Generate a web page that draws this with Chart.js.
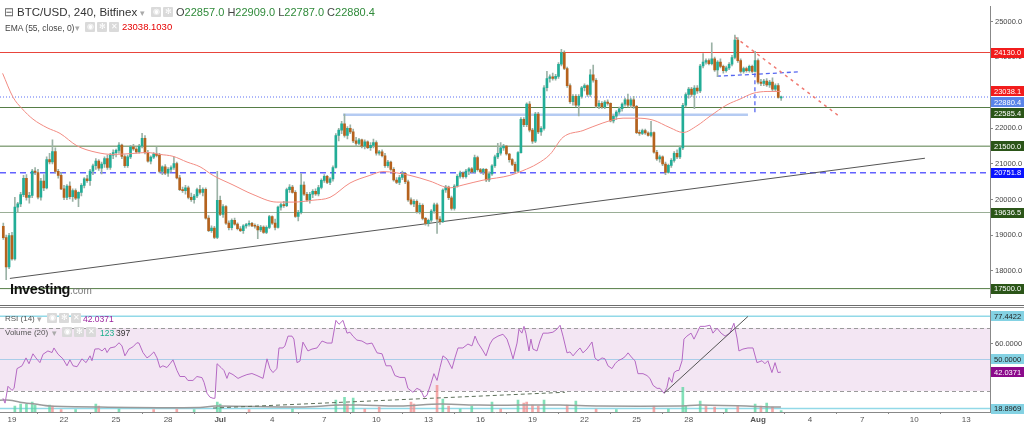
<!DOCTYPE html>
<html>
<head>
<meta charset="utf-8">
<script src="https://cdn.jsdelivr.net/npm/chart.js"></script>
<style>
 html,body{margin:0;padding:0;background:#fff;}
 #wrap{position:relative;width:1024px;height:425px;overflow:hidden;font-family:"Liberation Sans",Arial,sans-serif;background:#fff;}
 canvas{position:absolute;left:0;}
 .t{position:absolute;white-space:nowrap;line-height:12px;color:#333;}
 .ic{position:absolute;width:10px;height:10px;background:#dadada;color:#fff;font-size:8px;line-height:10px;text-align:center;border-radius:1px;}
 .g{color:#2f8a3a;}
</style>
</head>
<body>
<div id="wrap">
 <canvas id="price" width="1024" height="304" style="top:0;width:1024px;height:304px"></canvas>
 <canvas id="osc" width="1024" height="121" style="top:304px;width:1024px;height:121px"></canvas>

 <div class="t" style="left:4px;top:6px;font-size:11.5px;color:#666">⊟</div>
 <div class="t" style="left:17px;top:6px;font-size:11.5px;">BTC/USD, 240, Bitfinex</div>
 <div class="t" style="left:140px;top:7px;font-size:9px;color:#aaa">▾</div>
 <div class="ic" style="left:151px;top:7px">◉</div>
 <div class="ic" style="left:163px;top:7px">✻</div>
 <div class="t" style="left:176px;top:6px;font-size:11px;color:#444">O<span class="g">22857.0</span> H<span class="g">22909.0</span> L<span class="g">22787.0</span> C<span class="g">22880.4</span></div>

 <div class="t" style="left:5px;top:22px;font-size:8.5px;color:#444">EMA (55, close, 0)</div>
 <div class="t" style="left:75px;top:22px;font-size:9px;color:#aaa">▾</div>
 <div class="ic" style="left:85px;top:22px">◉</div>
 <div class="ic" style="left:97px;top:22px">✻</div>
 <div class="ic" style="left:109px;top:22px">✕</div>
 <div class="t" style="left:122px;top:21px;font-size:9.5px;color:#e60000">23038.1030</div>

 <div class="t" style="left:5px;top:313px;font-size:8px;color:#555">RSI (14)</div>
 <div class="t" style="left:37px;top:313px;font-size:9px;color:#aaa">▾</div>
 <div class="ic" style="left:47px;top:313px">◉</div>
 <div class="ic" style="left:59px;top:313px">✻</div>
 <div class="ic" style="left:71px;top:313px">✕</div>
 <div class="t" style="left:83px;top:313px;font-size:8.5px;color:#9b229e">42.0371</div>

 <div class="t" style="left:5px;top:327px;font-size:8px;color:#555">Volume (20)</div>
 <div class="t" style="left:52px;top:327px;font-size:9px;color:#aaa">▾</div>
 <div class="ic" style="left:62px;top:327px">◉</div>
 <div class="ic" style="left:74px;top:327px">✻</div>
 <div class="ic" style="left:86px;top:327px">✕</div>
 <div class="t" style="left:100px;top:327px;font-size:8.5px;color:#1aae8a">123</div>
 <div class="t" style="left:116px;top:327px;font-size:8.5px;color:#333">397</div>

 <div class="t" style="left:10px;top:283px;font-size:14.5px;font-weight:bold;color:#111;letter-spacing:-0.4px">Investing<span style="font-size:10px;font-weight:normal;color:#777;letter-spacing:0">.com</span></div>
</div>

<script>
// ---------------- DATA ----------------
const tickDays   = [0,3,6,9,12,15,18,21,24,27,30,33,36,39,43,46,49,52,55];
const tickLabels = ['19','22','25','28','Jul','4','7','10','13','16','19','22','25','28','Aug','4','7','10','13'];
const boldTicks  = ['Jul','Aug'];
const priceTickValues = [18000,19000,20000,21000,22000,23000,24000,25000];
const rsiTickValues = [60];

// 4h candles, first bar opens 18 Jun 12:00 (day -0.5, day 0 = 19 Jun)
const firstBarDay = -0.5;
const barsPerDay = 6;
const ohlc = [
[19250,19340,18880,18930],[18930,19000,17750,18110],[18110,19050,18060,18990],[18990,19080,18300,18330],[18330,20060,18300,19790],
[19790,19920,19650,19880],[19880,20200,19800,20140],[20140,20680,20080,20600],[20600,20700,19980,20060],[20060,20200,19900,20120],
[20120,20850,20050,20800],[20800,20900,20700,20760],[20760,20850,20020,20070],[20070,20600,19980,20520],[20520,20700,20250,20330],
[20330,21200,20300,21120],[21120,21300,21000,21060],[21060,21680,21000,21350],[21350,21450,20750,20790],[20790,20850,20600,20680],
[20680,20760,20280,20300],[20300,20400,20000,20060],[20060,20420,20000,20380],[20380,20500,20020,20080],[20080,20300,19950,20250],
[20250,20300,20000,20040],[20040,20220,19800,20200],[20200,20450,20100,20400],[20400,20620,20330,20580],[20580,20680,20480,20530],
[20530,20850,20400,20800],[20800,21000,20700,20950],[20950,21150,20850,21080],[21080,21120,20820,20880],[20880,21050,20720,21000],
[21000,21200,20900,21150],[21150,21250,20850,20900],[20900,21300,20850,21250],[21250,21400,21150,21320],[21320,21420,21200,21380],
[21380,21600,21300,21530],[21530,21560,21150,21210],[21210,21260,20900,20950],[20950,21250,20900,21200],[21200,21520,21150,21480],
[21480,21550,21380,21420],[21420,21460,21300,21340],[21340,21550,21300,21500],[21500,21860,21450,21720],[21720,21800,21280,21320],
[21320,21380,21050,21080],[21080,21230,21000,21190],[21190,21320,21150,21280],[21280,21480,21200,21240],[21240,21300,20750,20790],
[20790,20950,20700,20920],[20920,20980,20700,20740],[20740,20900,20650,20850],[20850,20950,20780,20900],[20900,21200,20850,21010],
[21010,21050,20580,20610],[20610,20680,20250,20280],[20280,20350,20200,20250],[20250,20400,20150,20330],[20330,20380,20020,20060],
[20060,20180,19950,20000],[20000,20150,19900,20100],[20100,20320,20050,20280],[20280,20400,20150,20200],[20200,20330,20100,20290],
[20290,20330,19450,19480],[19480,19550,19100,19130],[19130,19260,19080,19200],[19200,19250,18900,18940],[18940,20790,18900,19980],
[19980,20100,19550,19580],[19580,19860,19500,19800],[19800,19830,19300,19340],[19340,19400,19150,19210],[19210,19460,19150,19420],
[19420,19480,19280,19310],[19310,19350,19150,19180],[19180,19240,19100,19130],[19130,19300,19050,19260],[19260,19330,19200,19300],
[19300,19400,19250,19330],[19330,19360,19240,19260],[19260,19320,19200,19250],[19250,19300,18900,19150],[19150,19280,19100,19230],
[19230,19260,19050,19080],[19080,19260,19040,19220],[19220,19560,19180,19520],[19520,19540,19300,19340],[19340,19450,19150,19220],
[19220,19820,19200,19790],[19790,19900,19700,19860],[19860,19950,19780,19830],[19830,20320,19800,20280],[20280,20420,20200,20350],
[20350,20400,20180,20200],[20200,20250,19500,19530],[19530,19700,19400,19640],[19640,20730,19600,20410],[20410,20500,20120,20150],
[20150,20200,19950,19990],[19990,20200,19900,20150],[20150,20280,20050,20230],[20230,20300,20120,20160],[20160,20400,20100,20340],
[20340,20580,20300,20540],[20540,20700,20480,20650],[20650,20680,20450,20480],[20480,20620,20420,20580],[20580,20950,20520,20900],
[20900,21850,20880,21800],[21800,22000,21650,21950],[21950,22200,21850,22130],[22130,22400,21750,21800],[21800,22050,21700,22000],
[22000,22100,21850,21900],[21900,21980,21600,21650],[21650,21750,21500,21580],[21580,21720,21540,21680],[21680,21700,21450,21500],
[21500,21680,21420,21620],[21620,21650,21430,21460],[21460,21600,21380,21520],[21520,21700,21450,21600],[21600,21650,21250,21300],
[21300,21380,21250,21340],[21340,21400,21200,21230],[21230,21300,20900,20950],[20950,21100,20900,21050],[21050,21080,20820,20850],
[20850,20900,20520,20550],[20550,20620,20450,20480],[20480,20680,20420,20620],[20620,20800,20560,20740],[20740,20760,20450,20500],
[20500,20550,19950,19990],[19990,20050,19850,19880],[19880,20000,19800,19950],[19950,19990,19620,19660],[19660,19900,19600,19840],
[19840,19880,19430,19470],[19470,19500,19280,19330],[19330,19450,19250,19420],[19420,19720,19350,19680],[19680,19900,19620,19850],
[19850,19900,19050,19450],[19450,19520,19300,19380],[19380,20300,19350,20270],[20270,20400,20200,20350],[20350,20380,20000,20050],
[20050,20100,19700,19750],[19750,20420,19700,20380],[20380,20700,20350,20650],[20650,20800,20600,20750],[20750,20780,20600,20640],
[20640,20850,20600,20800],[20800,20900,20700,20860],[20860,20900,20750,20780],[20780,21250,20750,21180],[21180,21220,20800,20840],
[20840,20880,20750,20780],[20780,20880,20700,20850],[20850,20870,20500,20550],[20550,20780,20500,20720],[20720,20980,20680,20950],
[20950,21250,20900,21200],[21200,21580,21150,21300],[21300,21600,21250,21450],[21450,21550,21380,21500],[21500,21520,21250,21280],
[21280,21300,21050,21120],[21120,21150,20950,20990],[20990,21050,20750,20800],[20800,21350,20780,21320],[21320,22300,21300,22250],
[22250,22300,22050,22100],[22100,22720,22050,22680],[22680,22750,21900,21950],[21950,22000,21580,21640],[21640,22450,21600,22400],
[22400,22450,21850,21900],[21900,22050,21800,22000],[22000,23200,21950,23140],[23140,23600,23050,23400],[23400,23500,23300,23450],
[23450,23550,23350,23400],[23400,23520,23350,23460],[23460,23850,23400,23800],[23800,24220,23750,24130],[24130,24180,23650,23680],
[23680,23720,23150,23200],[23200,23250,22700,22750],[22750,22950,22650,22900],[22900,22950,22600,22650],[22650,22950,22350,22900],
[22900,23180,22850,23140],[23140,23250,23050,23200],[23200,23220,22900,22950],[22950,23650,22900,23500],[23500,23780,23300,23350],
[23350,23400,22580,22620],[22620,22780,22550,22700],[22700,22750,22560,22600],[22600,22780,22550,22740],[22740,22800,22650,22700],
[22700,22720,22180,22210],[22210,22380,22150,22340],[22340,22500,22250,22460],[22460,22600,22400,22550],[22550,22720,22480,22680],
[22680,22850,22620,22800],[22800,22960,22600,22650],[22650,22850,22580,22800],[22800,22900,22560,22620],[22620,22650,21850,21880],
[21880,21950,21800,21860],[21860,21980,21820,21940],[21940,21980,21830,21870],[21870,21900,21780,21800],[21800,22200,21760,21880],
[21880,21900,21300,21330],[21330,21380,21100,21140],[21140,21250,21050,21200],[21200,21230,20950,21000],[21000,21050,20700,20760],
[20760,21000,20740,20960],[20960,21150,20900,21100],[21100,21350,21050,21300],[21300,21400,21150,21200],[21200,21500,21150,21450],
[21450,22700,21400,22650],[22650,23000,22600,22950],[22950,23150,22850,23100],[23100,23150,22900,22950],[22950,23200,22550,23130],
[23130,23200,22980,23050],[23050,23800,23000,23750],[23750,24100,23700,23860],[23860,23950,23800,23900],[23900,23950,23780,23820],
[23820,24400,23780,23950],[23950,24000,23600,23640],[23640,23900,23450,23860],[23860,23950,23700,23740],[23740,23780,23550,23620],
[23620,23750,23580,23700],[23700,23850,23650,23800],[23800,24050,23750,23990],[23990,24620,23950,24480],[24480,24550,23850,23900],
[23900,23950,23550,23600],[23600,23720,23550,23680],[23680,23720,23580,23620],[23620,23780,23580,23740],[23740,23780,23560,23600],
[23600,24160,23580,23900],[23900,23950,23250,23300],[23300,23380,23200,23260],[23260,23380,23200,23330],[23330,23400,23180,23220],
[23220,23350,23150,23300],[23300,23420,23050,23100],[23100,23250,23050,23200],[23200,23260,22850,22870],[22857,22909,22787,22880.4]
];

// EMA(55)
const emaDays   = [-0.54,0.06,0.58,1.21,2.02,2.77,3.75,4.90,5.82,6.97,7.78,8.53,9.28,10.09,10.84,11.59,12.74,13.89,15.27,16.20,17.35,18.33,19.48,20.63,21.38,22.94,24.09,25.25,26.00,27.15,28.70,29.45,30.26,31.01,31.76,32.91,34.06,35.22,36.02,36.95,37.93,38.68,39.48,40.23,41.21,41.96,42.71,43.52,44.32];
const emaValues = [23545,22876,22554,22259,22018,21858,21509,21322,21268,21295,21322,21268,21215,21054,20920,20679,20411,20143,19929,19929,19982,20062,20464,20679,20786,20679,20518,20330,20411,20545,20679,20813,21000,21268,21750,21938,22152,22286,22286,22232,22018,21884,22072,22340,22661,22822,22983,23036,23038];

// Horizontal levels and drawn objects (price pane)
const levelValues = [24130, 22880.4, 22585.4, 21500, 20751.8, 19636.5, 17500];
const zoneValue = 22380, zoneDays = [19.08, 42.42];
const trendDays = [-0.12, 52.62], trendPrices = [17786, 21161];
const fallDays = [41.67, 47.61], fallPrices = [24563, 22367];
const rangeDays = [40.63, 42.82, 45.42], rangePrices = [23465, 23518, 23590];
const rangeDropDay = 42.82, rangeDropPrices = [23545, 22420];
const axisLabelValues = [24130.0, 23038.1, 22880.4, 22585.4, 21500.0, 20751.8, 19636.5, 17500.0];

// RSI(14)
const rsiDays = [-0.52,-0.40,-0.23,0.00,0.12,0.29,0.58,0.81,0.98,1.21,1.38,1.61,1.79,2.07,2.31,2.42,2.65,2.94,3.17,3.34,3.52,3.75,4.03,4.27,4.50,4.61,4.78,5.01,5.19,5.36,5.48,5.65,5.94,6.17,6.34,6.51,6.74,6.97,7.20,7.32,7.55,7.78,7.95,8.18,8.36,8.53,8.70,8.93,9.11,9.28,9.51,9.68,9.97,10.14,10.43,10.66,10.95,11.07,11.24,11.41,11.59,11.70,11.82,12.05,12.22,12.39,12.51,12.74,13.03,13.26,13.54,13.83,14.12,14.47,14.70,14.87,15.04,15.27,15.39,15.62,15.73,15.91,16.14,16.25,16.43,16.60,16.77,17.06,17.29,17.58,17.87,18.16,18.44,18.67,18.85,19.08,19.31,19.48,19.65,19.88,20.17,20.46,20.75,21.04,21.33,21.56,21.84,22.07,22.36,22.65,22.82,23.11,23.34,23.57,23.75,23.92,24.15,24.32,24.50,24.67,24.84,25.07,25.36,25.53,25.71,25.99,26.28,26.51,26.69,26.86,27.09,27.32,27.55,27.72,28.01,28.30,28.53,28.70,28.88,29.11,29.22,29.39,29.51,29.62,29.80,29.91,30.03,30.26,30.43,30.61,30.89,31.18,31.41,31.59,31.76,31.99,32.16,32.34,32.57,32.74,32.91,33.14,33.43,33.60,33.78,34.01,34.18,34.35,34.58,34.76,34.93,35.16,35.33,35.51,35.74,35.91,36.08,36.37,36.60,36.77,36.95,37.18,37.35,37.58,37.75,37.87,38.04,38.16,38.33,38.44,38.62,38.73,38.90,39.14,39.31,39.48,39.66,39.94,40.23,40.40,40.64,40.87,41.10,41.38,41.61,41.79,41.90,42.13,42.42,42.71,42.94,43.23,43.40,43.57,43.80,43.98,44.15,44.32];
const rsiValues = [25.4,22.3,33.0,30.4,31.7,44.2,46.0,51.0,47.3,53.6,51.0,48.0,53.3,55.4,54.4,57.3,53.4,50.4,46.0,49.8,46.0,45.4,50.4,48.0,52.3,49.2,56.6,56.8,55.4,57.3,54.4,57.3,58.0,60.6,58.6,52.3,56.6,58.0,60.6,60.4,54.4,51.0,52.3,54.8,51.0,44.9,46.0,44.9,47.3,49.8,43.0,39.2,39.2,36.7,36.7,39.2,38.5,35.5,28.6,26.1,25.4,25.4,47.3,44.9,43.0,38.0,41.7,40.4,38.0,39.2,40.4,41.1,39.8,38.0,50.4,44.2,41.7,44.2,57.3,57.3,58.6,64.8,64.8,62.9,48.0,49.0,61.0,55.4,56.6,57.3,61.7,60.4,60.4,74.8,72.3,74.8,66.7,67.3,64.8,62.3,61.7,59.8,60.4,54.2,53.6,46.0,46.0,39.8,38.6,38.6,31.7,29.2,31.7,30.4,26.0,27.3,34.8,41.0,36.7,44.9,52.3,50.4,44.2,51.0,57.3,57.3,59.8,58.6,64.8,60.4,56.6,52.3,59.8,62.9,64.8,66.0,62.9,57.3,50.4,60.4,69.2,66.7,71.0,66.7,55.4,62.9,56.6,55.4,61.7,66.7,66.7,67.3,69.2,71.7,64.8,54.2,54.8,52.3,55.4,57.3,54.2,56.6,61.1,51.0,49.2,51.0,50.4,46.0,44.2,47.3,49.2,50.4,51.7,54.2,51.0,49.2,41.0,41.0,39.8,38.0,33.6,31.7,31.7,28.6,32.3,38.6,35.5,41.7,43.0,43.0,49.2,62.9,64.8,66.7,62.9,66.7,71.0,71.0,71.7,66.7,69.8,66.7,64.8,66.7,73.0,63.6,55.4,56.6,57.3,57.3,48.0,49.2,47.3,49.2,41.7,48.0,41.7,42.04];
const rsiBandValues = [70, 30];
const rsiMidValue = 50;
const rsiMarkValues = [77.4422, 18.8969];
const rsiTrendDays = [37.58, 42.42], rsiTrendValues = [28.6, 77.3];
const volTrendDays = [11.59, 31.87], volTrendValues = [19.2, 29.2];
const rsiLabelValues = [77.4422, 50.0, 42.0371, 18.8969];

// Volume(20): visible bars (bar index, volume, up?)
const volIndex = [4,6,8,10,11,16,17,20,25,32,33,40,52,60,66,74,75,85,100,115,118,119,121,125,130,141,142,150,152,154,158,162,169,172,178,180,181,183,185,187,195,198,205,212,225,230,235,236,241,243,246,250,254,260,262,264,266,269];
const volValue = [480,640,640,800,560,560,480,200,200,640,480,240,200,240,200,800,640,200,240,960,1200,640,1120,240,400,800,640,2160,1040,480,240,480,800,240,960,720,800,560,480,960,560,880,240,200,480,240,2000,480,880,480,400,240,480,640,480,720,400,123];
const volUp    = [1,1,1,1,1,1,0,0,1,1,0,1,0,0,1,1,1,0,1,1,1,0,1,0,0,0,0,0,1,0,1,1,1,0,1,0,0,0,0,1,0,1,0,1,0,1,1,1,1,0,0,1,0,1,0,1,0,1];
const volMaDays   = [-0.69,-0.12,0.46,1.33,2.19,5.07,10.84,11.70,16.60,18.91,20.06,22.36,24.67,26.97,29.28,31.59,33.89,38.50,39.66,44.32];
const volMaValues = [960,960,800,640,480,400,360,480,400,560,560,480,640,560,560,560,480,480,560,397];

// ---------------- VIEW RANGES ----------------
const X_MIN = -0.69, X_MAX = 56.37;
const PRICE_MIN = 17250, PRICE_MAX = 25422;
const RSI_MIN = 16.69, RSI_MAX = 81.06;
const VOL_MAX = 8240;
const FONT = '"Liberation Sans", Arial, sans-serif';
Chart.defaults.font.family = FONT;

const barDay = i => firstBarDay + i / barsPerDay;
const UP = '#22ad97', DOWN = '#b5621d', WICK = '#9bb2a6';

const bodies = ohlc.map((c, i) => ({x: barDay(i), y: [c[0], c[3]]}));
const wicks  = ohlc.map((c, i) => ({x: barDay(i), y: [c[2], c[1]]}));
const bodyColors = ohlc.map(c => c[3] >= c[0] ? UP : DOWN);

const seg = (xs, ys) => xs.map((x, i) => ({x, y: ys[i]}));
const hline = v => [{x: X_MIN, y: v}, {x: X_MAX, y: v}];
const lineDs = (data, color, width, dash, order, extra) => Object.assign({
  type: 'line', data, borderColor: color, borderWidth: width, borderDash: dash || [],
  pointRadius: 0, fill: false, order, tension: 0
}, extra || {});

const levelStyles = [
  ['#e8453c', 1, []],
  ['#5b6ef5', 1, [1, 2]],
  ['#567d46', 1, []],
  ['#567d46', 1, []],
  ['#6262ff', 1.5, [6, 4]],
  ['#9aae96', 1.2, []],
  ['#567d46', 1, []]
];

const priceLabelStyles = [
  ['#f21c1c', '#fff'], ['#f21c1c', '#fff'], ['#5a84e8', '#fff'], ['#2b5518', '#fff'],
  ['#2b5518', '#fff'], ['#0a14ff', '#fff'], ['#2b5518', '#fff'], ['#2b5518', '#fff']
];
const rsiLabelStyles = [['#84d2e3', '#222'], ['#84d2e3', '#222'], ['#8b0a8b', '#fff'], ['#84d2e3', '#222']];

function drawAxisBoxes(chart, scale, values, styles, digits) {
  const ctx = chart.ctx;
  ctx.save();
  ctx.font = '7.5px ' + FONT;
  ctx.textBaseline = 'middle';
  let prev = -1e9;
  values.forEach((v, i) => {
    const py = Math.max(scale.getPixelForValue(v), prev + 11);
    prev = py;
    ctx.fillStyle = styles[i][0];
    ctx.fillRect(scale.left + 1, Math.round(py - 5), 34, 10);
    ctx.fillStyle = styles[i][1];
    ctx.fillText(v.toFixed(digits), scale.left + 4, py + 0.5);
  });
  ctx.restore();
}

// ---------------- PRICE CHART ----------------
const priceDatasets = [];
levelValues.forEach((v, i) => {
  priceDatasets.push(lineDs(hline(v), levelStyles[i][0], levelStyles[i][1], levelStyles[i][2], 10));
});
priceDatasets.push(lineDs(seg(zoneDays, [zoneValue, zoneValue]), '#b5cbf2', 2.5, [], 9));
priceDatasets.push(lineDs(seg(trendDays, trendPrices), '#555', 1, [], 9));
priceDatasets.push(lineDs(seg(fallDays, fallPrices), '#f07a72', 1.5, [3, 4], 9));
priceDatasets.push(lineDs(seg(rangeDays, rangePrices), '#5566f0', 1.3, [4, 3], 9));
priceDatasets.push(lineDs(seg([rangeDropDay, rangeDropDay], rangeDropPrices), '#5566f0', 1.3, [4, 3], 9));
priceDatasets.push({type: 'bar', data: wicks, backgroundColor: WICK, barThickness: 1, grouped: false, order: 5, minBarLength: 1});
priceDatasets.push({type: 'bar', data: bodies, backgroundColor: bodyColors, barThickness: 2, grouped: false, order: 4, minBarLength: 1});
priceDatasets.push(lineDs(seg(emaDays, emaValues), '#f28b82', 1, [], 1, {tension: 0.4, cubicInterpolationMode: 'monotone'}));

new Chart(document.getElementById('price'), {
  type: 'bar',
  data: {datasets: priceDatasets},
  options: {
    responsive: false, animation: false, devicePixelRatio: 1,
    layout: {padding: 0},
    plugins: {legend: {display: false}, tooltip: {enabled: false}},
    scales: {
      x: {type: 'linear', min: X_MIN, max: X_MAX, display: false, offset: false, grid: {display: false}},
      y: {
        type: 'linear', position: 'right', min: PRICE_MIN, max: PRICE_MAX,
        afterBuildTicks: s => { s.ticks = priceTickValues.map(v => ({value: v})); },
        afterFit: s => { s.width = 34; },
        ticks: {callback: v => Number(v).toFixed(1), font: {size: 7.5}, color: '#444', padding: 2},
        grid: {drawOnChartArea: false, drawTicks: true, tickLength: 3, color: '#888'},
        border: {display: true, color: '#888'}
      }
    }
  },
  plugins: [{
    id: 'priceBoxes',
    afterDraw(chart) { drawAxisBoxes(chart, chart.scales.y, axisLabelValues, priceLabelStyles, 1); }
  }]
});

// ---------------- RSI / VOLUME CHART ----------------
const volBars = volIndex.map((b, i) => ({x: barDay(b), y: volValue[i]}));
const volColors = volUp.map(u => u ? 'rgba(90,214,160,0.75)' : 'rgba(243,140,140,0.75)');

new Chart(document.getElementById('osc'), {
  type: 'bar',
  data: {datasets: [
    {type: 'bar', data: volBars, backgroundColor: volColors, barThickness: 2, grouped: false, yAxisID: 'vol', order: 5},
    lineDs(seg(volMaDays, volMaValues), '#9a9a9a', 1.5, [], 4, {yAxisID: 'vol', tension: 0.3}),
    lineDs(seg(volTrendDays, volTrendValues), '#5d6f5a', 1, [4, 3], 3, {yAxisID: 'rsi'}),
    lineDs(seg(rsiDays, rsiValues), '#b569c4', 1, [], 2, {yAxisID: 'rsi'}),
    lineDs(seg(rsiTrendDays, rsiTrendValues), '#555', 1, [], 1, {yAxisID: 'rsi'})
  ]},
  options: {
    responsive: false, animation: false, devicePixelRatio: 1,
    layout: {padding: {top: 5, left: 0, right: 0, bottom: 0}},
    plugins: {legend: {display: false}, tooltip: {enabled: false}},
    scales: {
      x: {
        type: 'linear', min: X_MIN, max: X_MAX, offset: false, position: 'bottom',
        afterBuildTicks: s => { s.ticks = tickDays.map(v => ({value: v})); },
        afterFit: s => { s.height = 13; },
        ticks: {
          autoSkip: false, maxRotation: 0, minRotation: 0, padding: 1, color: '#555',
          callback: (v, i) => tickLabels[i],
          font: ctx => ({size: 8, weight: boldTicks.includes(tickLabels[ctx.index]) ? 'bold' : 'normal'})
        },
        grid: {drawOnChartArea: false, drawTicks: true, tickLength: 2, color: '#888'},
        border: {display: true, color: '#888'}
      },
      rsi: {
        type: 'linear', position: 'right', min: RSI_MIN, max: RSI_MAX,
        afterBuildTicks: s => { s.ticks = rsiTickValues.map(v => ({value: v})); },
        afterFit: s => { s.width = 34; },
        ticks: {callback: v => Number(v).toFixed(4), font: {size: 7.5}, color: '#444', padding: 2},
        grid: {drawOnChartArea: false, drawTicks: true, tickLength: 3, color: '#888'},
        border: {display: true, color: '#888'}
      },
      vol: {type: 'linear', display: false, min: 0, max: VOL_MAX}
    }
  },
  plugins: [{
    id: 'rsiDecor',
    beforeDraw(chart) {
      const ctx = chart.ctx;
      ctx.save();
      ctx.fillStyle = '#6d6d6d'; ctx.fillRect(0, 1, 1024, 1);
      ctx.fillStyle = '#8a8a8a'; ctx.fillRect(0, 3, 1024, 1);
      ctx.restore();
    },
    beforeDatasetsDraw(chart) {
      const {ctx, chartArea: a, scales: {rsi}} = chart;
      const yTop = rsi.getPixelForValue(rsiBandValues[0]);
      const yBot = rsi.getPixelForValue(rsiBandValues[1]);
      ctx.save();
      ctx.fillStyle = '#f3e6f3';
      ctx.fillRect(a.left, yTop, a.right - a.left, yBot - yTop);
      ctx.strokeStyle = '#9a9a9a'; ctx.lineWidth = 1; ctx.setLineDash([4, 3]);
      [yTop, yBot].forEach(y => { ctx.beginPath(); ctx.moveTo(a.left, Math.round(y) + 0.5); ctx.lineTo(a.right, Math.round(y) + 0.5); ctx.stroke(); });
      ctx.setLineDash([]);
      const yMid = rsi.getPixelForValue(rsiMidValue);
      ctx.strokeStyle = '#a9cde9';
      ctx.beginPath(); ctx.moveTo(a.left, Math.round(yMid) + 0.5); ctx.lineTo(a.right, Math.round(yMid) + 0.5); ctx.stroke();
      ctx.strokeStyle = '#92d9e8'; ctx.lineWidth = 1.5;
      rsiMarkValues.forEach(v => {
        const y = rsi.getPixelForValue(v);
        ctx.beginPath(); ctx.moveTo(a.left, y); ctx.lineTo(a.right, y); ctx.stroke();
      });
      ctx.restore();
    },
    afterDraw(chart) { drawAxisBoxes(chart, chart.scales.rsi, rsiLabelValues, rsiLabelStyles, 4); }
  }]
});
</script>
</body>
</html>
